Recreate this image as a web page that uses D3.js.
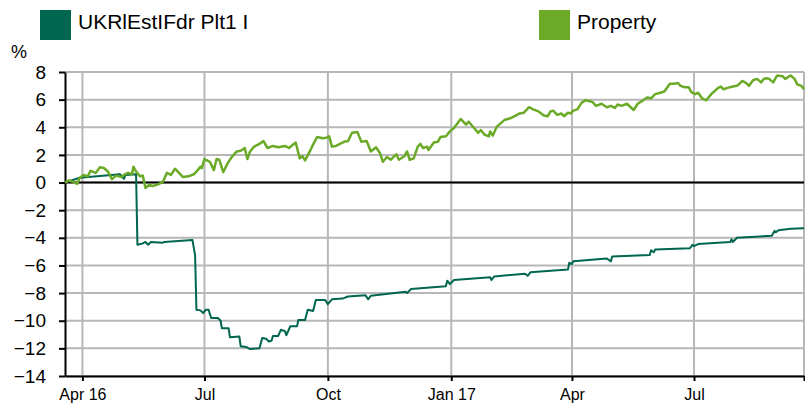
<!DOCTYPE html>
<html>
<head>
<meta charset="utf-8">
<script src="https://d3js.org/d3.v7.min.js"></script>
<style>
  body { margin: 0; background: #fff; }
  svg { display: block; font-family: "Liberation Sans", Arial, sans-serif; }
</style>
</head>
<body>
<div id="chart"></div>
<script>
// series names + colours
var seriesNames = ["UKRlEstIFdr Plt1 I", "Property"];
var seriesColors = ["#00664f", "#6aaa27"];

// Property
var propDates = ["2016-03-19","2016-03-22","2016-03-25","2016-03-28","2016-03-30","2016-04-02","2016-04-05","2016-04-07","2016-04-11","2016-04-14","2016-04-17","2016-04-20","2016-04-23","2016-04-26","2016-04-30",
  "2016-05-02","2016-05-05","2016-05-08","2016-05-09","2016-05-11","2016-05-14","2016-05-16","2016-05-18","2016-05-21","2016-05-23","2016-05-27","2016-05-31",
  "2016-06-03","2016-06-06","2016-06-09","2016-06-12","2016-06-15","2016-06-19","2016-06-23","2016-06-26","2016-06-28","2016-06-29",
  "2016-07-01","2016-07-05","2016-07-08","2016-07-10","2016-07-12","2016-07-15","2016-07-18","2016-07-21","2016-07-25","2016-07-28","2016-07-31",
  "2016-08-02","2016-08-04","2016-08-07","2016-08-11","2016-08-14","2016-08-17","2016-08-21","2016-08-25","2016-08-30",
  "2016-09-02","2016-09-07","2016-09-10","2016-09-12","2016-09-14","2016-09-18","2016-09-20","2016-09-23","2016-09-27","2016-09-30",
  "2016-10-02","2016-10-04","2016-10-07","2016-10-10","2016-10-13","2016-10-16","2016-10-19","2016-10-23","2016-10-26","2016-10-30",
  "2016-11-02","2016-11-06","2016-11-09","2016-11-11","2016-11-14","2016-11-17","2016-11-21","2016-11-23","2016-11-27","2016-11-29",
  "2016-12-01","2016-12-04","2016-12-07","2016-12-09","2016-12-11","2016-12-14","2016-12-15","2016-12-19","2016-12-22","2016-12-24","2016-12-28","2016-12-31",
  "2017-01-03","2017-01-08","2017-01-12","2017-01-14","2017-01-18","2017-01-21","2017-01-23","2017-01-26","2017-01-29","2017-01-30",
  "2017-02-01","2017-02-04","2017-02-07","2017-02-10","2017-02-14","2017-02-18","2017-02-21","2017-02-24","2017-02-28",
  "2017-03-03","2017-03-07","2017-03-11","2017-03-14","2017-03-16","2017-03-18","2017-03-21","2017-03-24","2017-03-26","2017-03-29","2017-03-31",
  "2017-04-02","2017-04-05","2017-04-08","2017-04-11","2017-04-16","2017-04-19","2017-04-23","2017-04-27","2017-04-30",
  "2017-05-03","2017-05-05","2017-05-08","2017-05-12","2017-05-17","2017-05-20","2017-05-24","2017-05-27","2017-05-30",
  "2017-06-02","2017-06-06","2017-06-09","2017-06-13","2017-06-16","2017-06-19","2017-06-21","2017-06-24","2017-06-27","2017-06-29",
  "2017-07-02","2017-07-04","2017-07-07","2017-07-10","2017-07-13","2017-07-15","2017-07-19","2017-07-21","2017-07-23","2017-07-26","2017-07-30",
  "2017-08-02","2017-08-04","2017-08-06","2017-08-09","2017-08-11","2017-08-14","2017-08-17","2017-08-20","2017-08-22","2017-08-24","2017-08-26","2017-08-29",
  "2017-09-01","2017-09-05","2017-09-07","2017-09-11","2017-09-14","2017-09-16","2017-09-19","2017-09-21"];
var propValues = [0.0,0.15,0.05,-0.1,0.35,0.55,0.45,0.85,0.7,1.1,1.05,0.8,0.25,0.5,0.4,
  0.55,0.7,0.6,1.15,0.8,0.45,0.5,-0.4,-0.15,-0.25,-0.15,0.05,
  0.7,0.55,1.0,0.7,0.4,0.45,0.6,0.9,1.15,1.05,
  1.7,1.5,0.9,1.7,1.65,0.75,1.35,1.8,2.25,2.3,2.5,
  1.7,2.25,2.6,2.8,3.0,2.5,2.65,2.55,2.65,
  2.5,2.9,1.75,1.9,1.6,2.35,2.75,3.3,3.2,3.25,
  3.35,2.6,2.65,2.8,2.95,3.0,3.6,3.65,2.95,3.0,
  2.25,2.55,2.1,1.5,1.85,1.65,2.05,1.65,1.9,2.25,
  1.65,1.75,2.6,2.8,2.5,2.6,2.35,2.9,2.95,3.3,3.35,3.7,
  3.95,4.6,4.2,4.4,3.95,3.6,3.8,3.45,3.35,3.7,
  3.4,4.05,4.3,4.55,4.65,4.85,5.0,5.05,5.45,
  5.3,5.15,4.85,4.8,5.15,5.2,4.9,5.0,4.8,5.05,5.0,
  5.2,5.3,5.75,5.95,5.85,5.55,5.7,5.45,5.55,
  5.4,5.65,5.55,5.7,5.25,5.7,5.95,6.15,6.1,
  6.4,6.5,6.6,7.15,7.15,7.2,7.0,6.9,6.9,6.55,
  6.4,6.5,6.1,5.95,6.3,6.5,6.85,6.95,6.75,6.85,6.95,
  7.0,7.15,7.35,7.2,7.0,7.4,7.5,7.25,7.5,7.55,7.5,7.25,
  7.75,7.7,7.5,7.75,7.5,7.1,7.0,6.75];

// Fund
var fundDates = ["2016-03-19","2016-03-30","2016-04-29","2016-05-02","2016-05-03","2016-05-11","2016-05-12","2016-05-16","2016-05-18","2016-05-20","2016-05-22","2016-05-31",
  "2016-06-01","2016-06-22","2016-06-24","2016-06-25","2016-06-28","2016-06-30",
  "2016-07-02","2016-07-04","2016-07-06","2016-07-11","2016-07-13","2016-07-14","2016-07-19","2016-07-20","2016-07-27","2016-07-28",
  "2016-08-01","2016-08-04","2016-08-11","2016-08-13","2016-08-16","2016-08-18","2016-08-20","2016-08-21","2016-08-25","2016-08-27","2016-08-30","2016-08-31",
  "2016-09-03","2016-09-08","2016-09-09","2016-09-14","2016-09-16","2016-09-20","2016-09-22","2016-09-29",
  "2016-10-01","2016-10-04","2016-10-12","2016-10-16","2016-10-29","2016-10-31",
  "2016-11-02","2016-11-28","2016-11-29","2016-12-02","2016-12-09","2016-12-28","2016-12-29","2016-12-31",
  "2017-01-03","2017-01-30","2017-01-31","2017-02-02","2017-02-25","2017-02-27","2017-03-01","2017-03-29","2017-03-30",
  "2017-04-01","2017-04-02","2017-04-27","2017-04-30","2017-05-01","2017-05-29","2017-05-30",
  "2017-06-01","2017-06-02","2017-06-28","2017-06-30","2017-07-01","2017-07-04","2017-07-28","2017-07-29","2017-07-30",
  "2017-08-02","2017-08-28","2017-08-30","2017-08-31","2017-09-02","2017-09-11","2017-09-21"];
var fundValues = [0.0,0.35,0.6,0.27,0.55,0.6,-4.5,-4.4,-4.3,-4.5,-4.3,-4.35,
  -4.3,-4.15,-5.25,-9.2,-9.25,-9.45,
  -9.2,-9.2,-9.8,-9.8,-10.0,-10.55,-10.55,-11.2,-11.15,-11.85,
  -11.9,-12.05,-12.0,-11.25,-11.3,-11.5,-11.45,-11.1,-11.1,-10.65,-10.75,-11.05,
  -10.4,-10.4,-9.95,-9.95,-9.2,-9.3,-8.5,-8.5,
  -8.8,-8.45,-8.4,-8.25,-8.15,-8.45,
  -8.2,-7.9,-8.0,-7.7,-7.65,-7.5,-7.1,-7.35,
  -7.05,-6.85,-7.05,-6.8,-6.6,-6.75,-6.5,-6.3,-5.8,
  -5.9,-5.7,-5.5,-5.7,-5.35,-5.25,-4.9,
  -5.05,-4.85,-4.75,-4.5,-4.6,-4.45,-4.3,-4.1,-4.3,
  -4.0,-3.85,-3.5,-3.6,-3.45,-3.35,-3.3];

// axes
var xTickDates = ["2016-04-01","2016-07-01","2016-10-01","2017-01-01","2017-04-01","2017-07-01"];
var xTickLabels = ["Apr 16","Jul","Oct","Jan 17","Apr","Jul"];
var yTicks = [-14,-12,-10,-8,-6,-4,-2,0,2,4,6,8];
var xStart = "2016-03-19", xEnd = "2017-09-21";

var W = 805, H = 406;
var margin = {top: 72, right: 1, bottom: 30, left: 65};
var parse = d3.timeParse("%Y-%m-%d");

var svg = d3.select("#chart").append("svg")
  .attr("width", W).attr("height", H);

var x = d3.scaleTime()
  .domain([parse(xStart), parse(xEnd)])
  .range([margin.left, W - margin.right]);
var y = d3.scaleLinear()
  .domain([-14, 8])
  .range([H - margin.bottom, margin.top]);

// grid
svg.append("g").selectAll("line").data(yTicks).join("line")
  .attr("x1", margin.left).attr("x2", W - margin.right)
  .attr("y1", d => y(d)).attr("y2", d => y(d))
  .attr("stroke", "#b7b7b7").attr("stroke-width", 2);
svg.append("g").selectAll("line").data(xTickDates.concat([xEnd])).join("line")
  .attr("x1", d => x(parse(d))).attr("x2", d => x(parse(d)))
  .attr("y1", y(8)).attr("y2", y(-14))
  .attr("stroke", "#b7b7b7").attr("stroke-width", 2);

// zero line
svg.append("line")
  .attr("x1", margin.left).attr("x2", W - margin.right)
  .attr("y1", y(0)).attr("y2", y(0))
  .attr("stroke", "#000").attr("stroke-width", 2);

// y axis
var yAxis = svg.append("g")
  .attr("transform", "translate(" + margin.left + ",0)")
  .call(d3.axisLeft(y).tickValues(yTicks).tickSize(6).tickPadding(13).tickSizeOuter(0));
yAxis.select(".domain").attr("stroke-width", 2);
yAxis.selectAll(".tick line").attr("stroke-width", 2);
yAxis.selectAll("text").attr("font-size", 19).attr("fill", "#000")
  .attr("font-family", "Liberation Sans, Arial, sans-serif");

// x axis
var xAxis = svg.append("g")
  .attr("transform", "translate(0," + y(-14) + ")")
  .call(d3.axisBottom(x)
    .tickValues(xTickDates.map(parse).concat([parse(xEnd)]))
    .tickFormat((d, i) => xTickLabels[i] || "")
    .tickSize(5).tickPadding(8).tickSizeOuter(0));
xAxis.select(".domain").attr("stroke-width", 2);
xAxis.selectAll(".tick line").attr("stroke-width", 2);
xAxis.selectAll("text").attr("font-size", 16).attr("fill", "#000")
  .attr("font-family", "Liberation Sans, Arial, sans-serif");

// lines
var line = d3.line()
  .x(d => x(d.date))
  .y(d => y(d.value));

var fund = fundDates.map((d, i) => ({date: parse(d), value: fundValues[i]}));
var prop = propDates.map((d, i) => ({date: parse(d), value: propValues[i]}));

svg.append("path").datum(fund)
  .attr("fill", "none").attr("stroke", seriesColors[0])
  .attr("stroke-width", 2).attr("stroke-linejoin", "round")
  .attr("d", line);
svg.append("path").datum(prop)
  .attr("fill", "none").attr("stroke", seriesColors[1])
  .attr("stroke-width", 2.5).attr("stroke-linejoin", "round")
  .attr("d", line);

// legend
var legX = [40, 539];
var leg = svg.append("g").selectAll("g").data(seriesNames).join("g")
  .attr("transform", (d, i) => "translate(" + legX[i] + ",10)");
leg.append("rect")
  .attr("width", 31).attr("height", 30)
  .attr("fill", (d, i) => seriesColors[i]);
leg.append("text")
  .attr("x", 38).attr("y", 18.5)
  .attr("font-size", 21).attr("fill", "#000")
  .text(d => d);

// unit
svg.append("text")
  .attr("x", 11).attr("y", 58)
  .attr("font-size", 18).attr("fill", "#000")
  .text("%");
</script>
</body>
</html>
